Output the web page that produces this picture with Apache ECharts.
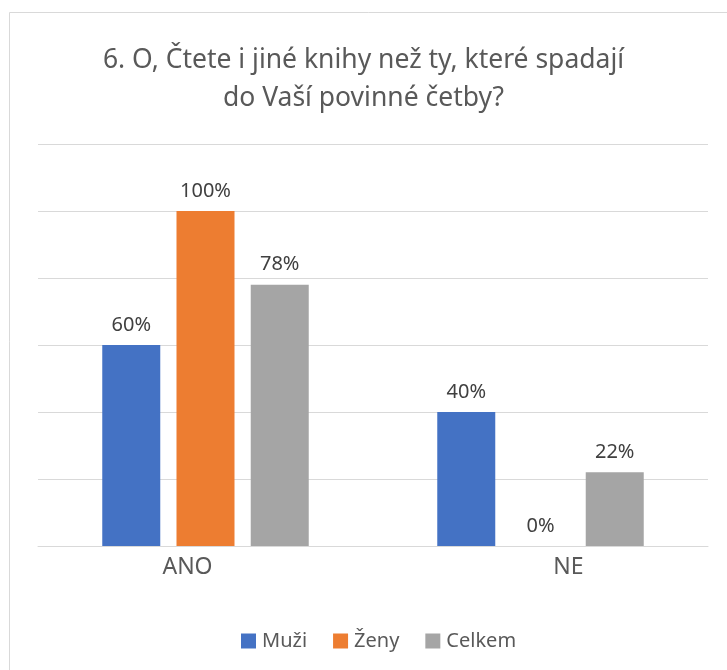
<!DOCTYPE html>
<html>
<head>
<meta charset="utf-8">
<script src="https://cdn.jsdelivr.net/npm/echarts@6/dist/echarts.min.js"></script>
<style>
  html, body { margin: 0; padding: 0; background: #fff; }
  #chart { width: 727px; height: 670px; }
</style>
</head>
<body>
<div id="chart"></div>
<script>
// data
let categories = ['ANO', 'NE'];
let muzi = [60, 40];
let zeny = [100, 0];
let celkem = [78, 22];
let seriesNames = ['Muži', 'Ženy', 'Celkem'];
let colors = ['#4472C4', '#ED7D31', '#A5A5A5'];

let myChart = echarts.init(document.getElementById('chart'));

function barSeries(name, data, color) {
    return {
        name: name,
        type: 'bar',
        data: data,
        barWidth: 58,
        barGap: '28%',
        itemStyle: { color: color },
        label: {
            show: true,
            position: 'top',
            distance: 10,
            formatter: '{c}%',
            color: '#404040',
            fontFamily: 'Noto Sans',
            fontSize: 20
        }
    };
}

// labels in the picture sit a little off the group centres
let labelPadding = [[0, 36, 0, 0], [0, 0, 0, 56]];

let option = {
    animation: false,
    backgroundColor: '#fff',
    title: {
        text: '6. O, Čtete i jiné knihy než ty, které spadají\ndo Vaší povinné četby?',
        left: 'center',
        top: 36,
        textStyle: {
            color: '#595959',
            fontFamily: 'Noto Sans',
            fontWeight: 'normal',
            fontSize: 26.5,
            lineHeight: 38
        }
    },
    legend: {
        bottom: 14,
        left: 236,
        icon: 'rect',
        itemWidth: 15,
        itemHeight: 15,
        itemGap: 26,
        textStyle: { color: '#595959', fontFamily: 'Noto Sans', fontSize: 20, padding: [0, 0, 0, 1] },
        data: seriesNames
    },
    grid: {
        left: 38,
        right: 19,
        top: 144,
        bottom: 124
    },
    xAxis: {
        type: 'category',
        data: categories.map((c, i) => ({ value: c, textStyle: { padding: labelPadding[i] } })),
        axisTick: { show: false },
        axisLine: { lineStyle: { color: '#D9D9D9', width: 1 } },
        axisLabel: { color: '#595959', fontFamily: 'Noto Sans', fontSize: 23, margin: 10 }
    },
    yAxis: {
        type: 'value',
        min: 0,
        max: 120,
        interval: 20,
        axisLabel: { show: false },
        axisLine: { show: false },
        axisTick: { show: false },
        splitLine: { lineStyle: { color: '#D9D9D9', width: 1 } }
    },
    graphic: [{
        type: 'rect',
        shape: { x: 9.5, y: 12.5, width: 800, height: 800 },
        style: { fill: 'none', stroke: '#D9D9D9', lineWidth: 1 },
        silent: true
    }],
    series: [
        barSeries(seriesNames[0], muzi, colors[0]),
        barSeries(seriesNames[1], zeny, colors[1]),
        barSeries(seriesNames[2], celkem, colors[2])
    ]
};

myChart.setOption(option);
</script>
</body>
</html>
